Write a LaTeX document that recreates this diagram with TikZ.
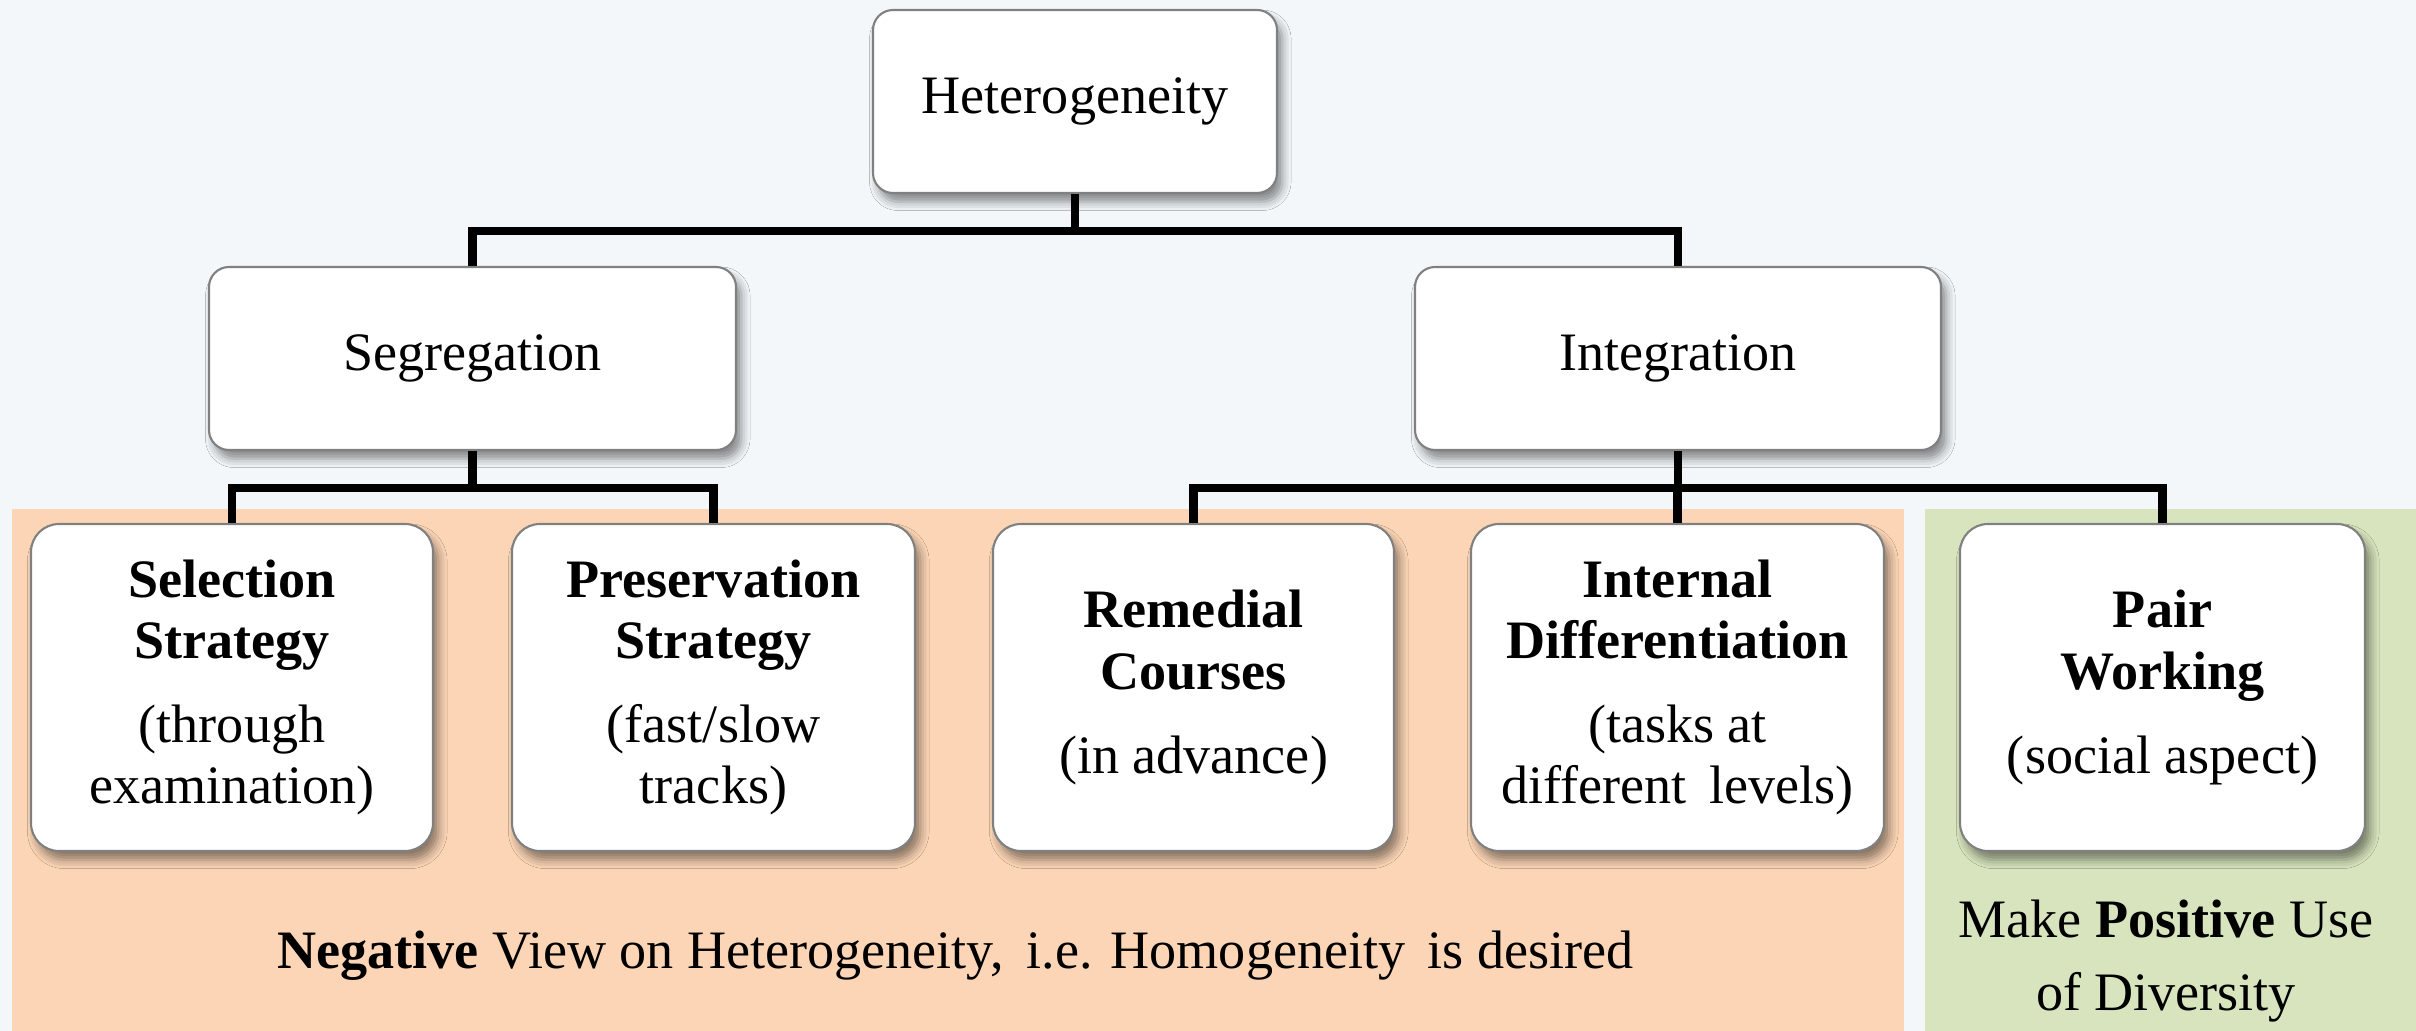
\documentclass[tikz,border=0pt]{standalone}
\usepackage{fontspec}
\setmainfont{Liberation Serif}
\usetikzlibrary{shadows.blur}

\definecolor{bgblue}{RGB}{243,247,250}
\definecolor{negorange}{RGB}{251,213,181}
\definecolor{posgreen}{RGB}{215,228,189}

\tikzset{
  box/.style={draw=black!50, line width=0.6pt, fill=white, rounded corners=0.2cm,
    align=center, minimum height=1.83cm, font=\fontsize{15.4}{17.4}\selectfont,
    blur shadow={shadow xshift=1.5pt, shadow yshift=-2.5pt, shadow blur radius=2.5pt, shadow opacity=45}},
  leaf/.style={box, rounded corners=0.28cm, minimum height=3.27cm},
  link/.style={line width=2.3pt, line join=miter},
}

\begin{document}
\begin{tikzpicture}
  \useasboundingbox (0,0) rectangle (24.16,-10.31);
  \fill[bgblue] (0,0) rectangle (24.16,-10.31);
  % the two coloured areas at the bottom
  \fill[negorange] (0.12,-5.09) rectangle (19.04,-10.31);
  \fill[posgreen] (19.25,-5.09) rectangle (24.16,-10.31);

  \node[box, minimum width=4.04cm] (het) at (10.75,-1.015) {Heterogeneity};
  \node[box, minimum width=5.27cm] (seg) at (4.725,-3.585) {Segregation};
  \node[box, minimum width=5.26cm] (integ) at (16.78,-3.585) {Integration};

  \node[leaf, minimum width=4.02cm] (sel) at (2.32,-6.875)
    {\textbf{Selection}\\\textbf{Strategy}\\[6.5pt](through\\examination)};
  \node[leaf, minimum width=4.03cm] (pres) at (7.135,-6.875)
    {\textbf{Preservation}\\\textbf{Strategy}\\[6.5pt](fast/slow\\tracks)};
  \node[leaf, minimum width=4.01cm] (rem) at (11.935,-6.875)
    {\textbf{Remedial}\\\textbf{Courses}\\[6.5pt](in advance)};
  \node[leaf, minimum width=4.13cm] (intd) at (16.775,-6.875)
    {\textbf{Internal}\\\textbf{Differentiation}\\[6.5pt](tasks at\\different\, levels)};
  \node[leaf, minimum width=4.05cm] (pair) at (21.625,-6.875)
    {\textbf{Pair}\\\textbf{Working}\\[6.5pt](social aspect)};

  \foreach \from/\to in {het/seg,het/integ,seg/sel,seg/pres,integ/rem,integ/intd,integ/pair}
    \draw[link] (\from.south) -- ++(0,-0.37) -| (\to.north);

  \node[font=\fontsize{15.4}{17.4}\selectfont, anchor=base] (negview) at (9.555,-9.68)
    {\textbf{Negative} View on Heterogeneity,\, i.e. Homogeneity\, is desired};
  \node[font=\fontsize{15.4}{20.5}\selectfont, align=center, anchor=base] (posuse) at (21.66,-10.10)
    {Make \textbf{Positive} Use\\of Diversity};
\end{tikzpicture}
\end{document}
